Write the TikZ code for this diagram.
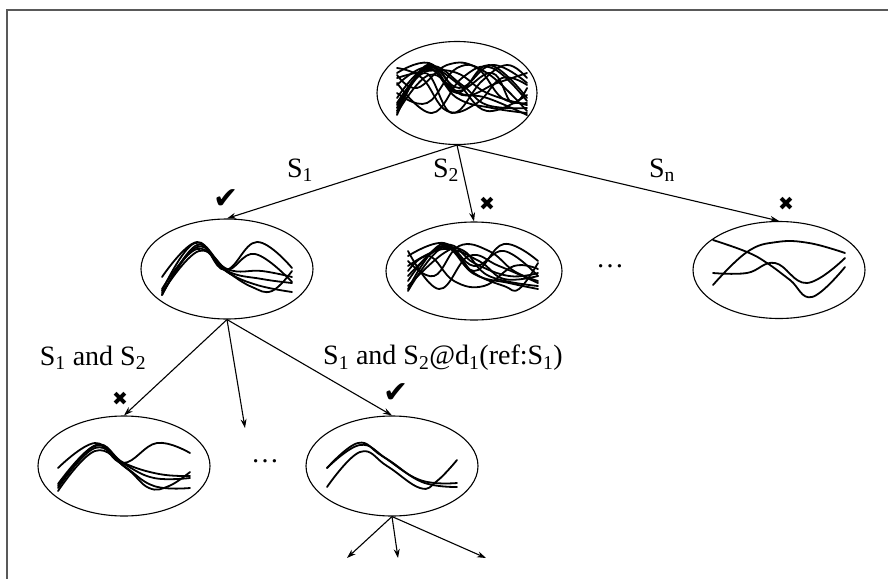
\documentclass[tikz,border=0pt]{standalone}
\usepackage{fontspec}
\setmainfont{Liberation Serif}
\newfontfamily\symfont{DejaVu Sans}
\usetikzlibrary{shapes.geometric, arrows.meta}
\tikzstyle{pool} = [
	ellipse,
	draw=black,
	line width=1.1pt,
	minimum width=172pt,
	minimum height=100pt,
	inner sep=0pt
]
\tikzstyle{arrow} = [line width=1.1pt, -{Stealth[length=9pt, width=6pt]}]
\tikzstyle{wave} = [line width=1.8pt, line join=round, line cap=round]
\tikzstyle{cond} = [font=\fontsize{28}{32}\selectfont, inner sep=0pt]
\tikzstyle{yes} = [font=\symfont\fontsize{30}{32}\selectfont, inner sep=0pt]
\tikzstyle{nope} = [font=\symfont\fontsize{19}{20}\selectfont, inner sep=0pt]
\newcommand{\wave}[1]{\draw[wave] plot[smooth, tension=0.7] coordinates {#1};}

\begin{document}
\begin{tikzpicture}[x=1pt, y=-1pt]
            \useasboundingbox (0,0) rectangle (888,578);
            \draw [line width=2pt, draw=black!65] (7,600) -- (7,10) -- (900,10);
            % pools of series
            \node (top) [pool, minimum width=160pt, minimum height=103pt] at (457,93) {};
            \node (midL) [pool] at (227,269) {};
            \node (midC) [pool, minimum width=176pt, minimum height=98pt] at (474,271) {};
            \node (midR) [pool, minimum height=97pt] at (779,270) {};
            \node (botL) [pool] at (124,466) {};
            \node (botM) [pool] at (392,466) {};
            % curves in the pools
            \begin{scope}[shift={(457,93)}, yscale=-1]
                \wave{(-60,20) (-28,30) (2,5) (35,28) (70,10)}
                \wave{(-60,-22) (-30,28) (0,0) (32,28) (70,-5)}
                \wave{(-60,10) (-25,-20) (5,15) (35,25) (70,-8)}
                \wave{(-60,-15) (-30,25) (0,-5) (35,-15) (70,-20)}
                \wave{(-60,25) (-35,15) (-10,-18) (20,-10) (45,15) (70,8)}
                \wave{(-60,-5) (-28,27) (5,8) (30,-12) (70,-15)}
                \wave{(-60,15) (-30,22) (0,20) (30,0) (70,-12)}
                \wave{(-60,-18) (-32,20) (-5,-20) (25,12) (50,28) (70,15)}
                \wave{(-60,0) (-30,-10) (0,25) (30,20) (70,-18)}
                \wave{(-60,-10) (-26,26) (5,-2) (40,10) (70,20)}
                \wave{(-60,8) (-30,26) (0,10) (30,-18) (70,-2)}
                \wave{(-60,-20) (-28,18) (2,0) (30,-5) (70,-22)}
                \wave{(-60,18) (-40,5) (-10,28) (20,25) (45,-5) (70,-10)}
                \wave{(-60,-12) (-30,24) (0,2) (35,20) (55,-10) (70,5)}
            \end{scope}
            \begin{scope}[shift={(227,269)}, yscale=-1]
                \wave{(-65,-8) (-30,27) (-2,-1) (30,27) (65,1)}
                \wave{(-65,-26) (-30,24) (-2,-1) (28,15) (65,-13)}
                \wave{(-65,-26) (-30,22) (0,-2) (35,-10) (65,-14)}
                \wave{(-65,-20) (-30,20) (0,-3) (30,-16) (65,-23)}
                \wave{(-65,-24) (-28,18) (2,-4) (25,-18) (45,-22) (65,-2)}
                \wave{(-65,-22) (-32,26) (0,0) (35,-2) (65,-8)}
            \end{scope}
            \begin{scope}[shift={(474,271)}, yscale=-1]
                \wave{(-66,15) (-30,28) (0,5) (30,20) (64,-5)}
                \wave{(-66,-18) (-32,27) (0,0) (30,27) (64,10)}
                \wave{(-66,20) (-35,-18) (-5,15) (25,5) (64,-12)}
                \wave{(-66,-10) (-32,25) (0,-3) (35,-12) (64,-18)}
                \wave{(-66,5) (-30,22) (5,10) (30,-8) (64,-5)}
                \wave{(-66,-15) (-30,18) (-10,20) (15,-5) (64,-15)}
                \wave{(-66,10) (-40,-5) (-15,25) (15,20) (40,0) (64,-10)}
                \wave{(-66,-20) (-30,24) (0,-2) (30,-15) (45,-18) (64,8)}
                \wave{(-66,0) (-45,15) (-20,-10) (10,-15) (40,5) (64,2)}
                \wave{(-66,-5) (-28,26) (0,8) (35,-5) (64,-2)}
            \end{scope}
            \begin{scope}[shift={(779,270)}, yscale=-1]
                \wave{(-66,30) (-32,18) (-12,7) (11,-10) (33,-27) (66,3)}
                \wave{(-66,-15) (-32,18) (-2,28) (30,27) (66,17)}
                \wave{(-66,-3) (-32,-3) (-4,7) (28,-13) (66,12)}
            \end{scope}
            \begin{scope}[shift={(124,466)}, yscale=-1]
                \wave{(-66,-2) (-29,23) (-1,3) (33,23) (66,13)}
                \wave{(-66,-20) (-29,20) (0,2) (30,-12) (66,-12)}
                \wave{(-66,-22) (-29,18) (0,0) (30,-20) (66,-22)}
                \wave{(-66,-25) (-29,15) (2,-2) (25,-22) (45,-20) (66,-6)}
                \wave{(-66,-18) (-28,21) (0,3) (35,-8) (66,-10)}
            \end{scope}
            \begin{scope}[shift={(392,466)}, yscale=-1]
                \wave{(-65,-2) (-34,23) (-10,10) (28,-14) (65,-17)}
                \wave{(-65,-2) (-32,21) (-5,7) (30,-16) (65,-21)}
                \wave{(-65,-21) (-32,14) (-5,0) (28,-22) (45,-15) (65,6)}
            \end{scope}
            % labels and marks
            \node (s1) [cond] at (300,170) {S\textsubscript{1}};
            \node (s2) [cond] at (446,170) {S\textsubscript{2}};
            \node (sn) [cond] at (662,170) {S\textsubscript{n}};
            \node (s12) [cond] at (93,358) {S\textsubscript{1} and S\textsubscript{2}};
            \node (s12d) [cond] at (443,358) {S\textsubscript{1} and S\textsubscript{2}@d\textsubscript{1}(ref:S\textsubscript{1})};
            \node (gap1) [cond] at (610,266) {\dots};
            \node (gap2) [cond] at (265,461) {\dots};
            \node (ok1) [yes] at (226,199) {✔};
            \node (ok2) [yes] at (396,393) {✔};
            \node (no1) [nope] at (487,204) {✖};
            \node (no2) [nope] at (786,204) {✖};
            \node (no3) [nope] at (120,399) {✖};
            \coordinate (more) at (245,428);
            \coordinate (nextA) at (347,558);
            \coordinate (nextB) at (398,558);
            \coordinate (nextC) at (486,558);
            \draw [arrow] (top.south) -- (midL.north);
            \draw [arrow] (top.south) -- (midC.north);
            \draw [arrow] (top.south) -- (midR.north);
            \draw [arrow] (midL.south) -- (botL.north);
            \draw [arrow] (midL.south) -- (more);
            \draw [arrow] (midL.south) -- (botM.north);
            \draw [arrow] (botM.south) -- (nextA);
            \draw [arrow] (botM.south) -- (nextB);
            \draw [arrow] (botM.south) -- (nextC);
          \end{tikzpicture}
\end{document}
